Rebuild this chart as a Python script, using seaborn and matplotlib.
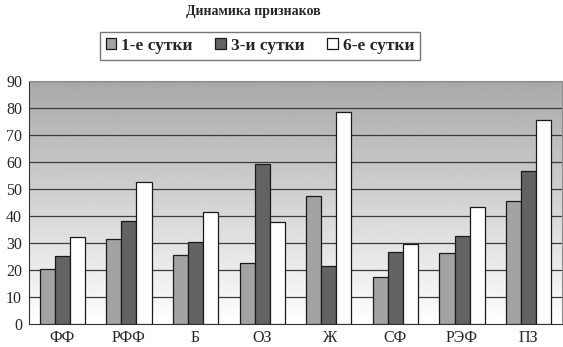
import numpy as np
import pandas as pd
import matplotlib
matplotlib.use("Agg")
import matplotlib.pyplot as plt
import seaborn as sns

# --- данные ---
categories = ["ФФ", "РФФ", "Б", "ОЗ", "Ж", "СФ", "РЭФ", "ПЗ"]
day1 = [20.2, 31.4, 25.7, 22.6, 47.5, 17.5, 26.4, 45.6]
day3 = [25.1, 38.0, 30.4, 59.3, 21.6, 26.7, 32.6, 56.8]
day6 = [32.2, 52.5, 41.6, 37.7, 78.6, 29.6, 43.5, 75.4]
series_names = ["1-е сутки", "3-и сутки", "6-е сутки"]
yticks = list(range(0, 100, 10))

df = pd.DataFrame({
    "cat": categories * 3,
    "val": day1 + day3 + day6,
    "series": [series_names[0]] * 8 + [series_names[1]] * 8 + [series_names[2]] * 8,
})

sns.set_style("white")
plt.rcParams["font.family"] = ["Liberation Serif", "DejaVu Serif"]

fig = plt.figure(figsize=(5.63, 3.47), dpi=100)
ax = fig.add_axes([29 / 563, 1 - 324 / 347, 533 / 563, 243 / 347])

palette = {series_names[0]: "#a3a3a3", series_names[1]: "#636363", series_names[2]: "#ffffff"}
sns.barplot(data=df, x="cat", y="val", hue="series", palette=palette, order=categories,
            hue_order=series_names, width=0.68, gap=0, edgecolor="#1a1a1a", linewidth=0.9,
            saturation=1, ax=ax, zorder=3)

# градиентный фон
grad = np.linspace(0.66, 1.0, 256).reshape(-1, 1)
ax.imshow(grad, extent=[0, 1, 0, 1], transform=ax.transAxes, aspect="auto",
          cmap="gray", vmin=0, vmax=1, zorder=0)

ax.set_xlim(-0.5, 7.5)
ax.set_ylim(0, 90)
ax.set_yticks(yticks)
ax.set_yticklabels([str(t) for t in yticks], fontsize=11.5)
for t in yticks[1:]:
    ax.axhline(t, color="#3c3c3c", linewidth=0.9, zorder=1)

ax.set_xticks(range(8))
ax.set_xticklabels(categories, fontsize=11.5)
ax.tick_params(axis="x", length=0, pad=4)
ax.tick_params(axis="y", length=3, direction="out", color="#333333", pad=2)
ax.set_xticks(np.arange(-0.5, 8, 1), minor=True)
ax.tick_params(axis="x", which="minor", length=4, direction="out", color="#333333")
ax.set_xlabel("")
ax.set_ylabel("")

for side in ["top", "right"]:
    ax.spines[side].set_color("#8c8c8c")
    ax.spines[side].set_linewidth(0.8)
ax.spines["left"].set_color("#333333")
ax.spines["bottom"].set_color("#333333")

handles, labels = ax.get_legend_handles_labels()
leg = fig.legend(handles, labels, loc="center", bbox_to_anchor=(260 / 563, 1 - 46 / 347),
                 ncol=3, frameon=True, fancybox=False, edgecolor="#555555",
                 prop={"weight": "bold", "size": 12.5}, handlelength=0.6, handleheight=0.6,
                 handletextpad=0.3, columnspacing=1.3, borderpad=0.35, borderaxespad=0)
leg.get_frame().set_linewidth(1.0)
ax.get_legend().remove()

fig.text(253 / 563, 1 - 12 / 347, "Динамика признаков", ha="center", va="center",
         fontsize=10, fontweight="bold")

fig.savefig("out.png", dpi=100)
